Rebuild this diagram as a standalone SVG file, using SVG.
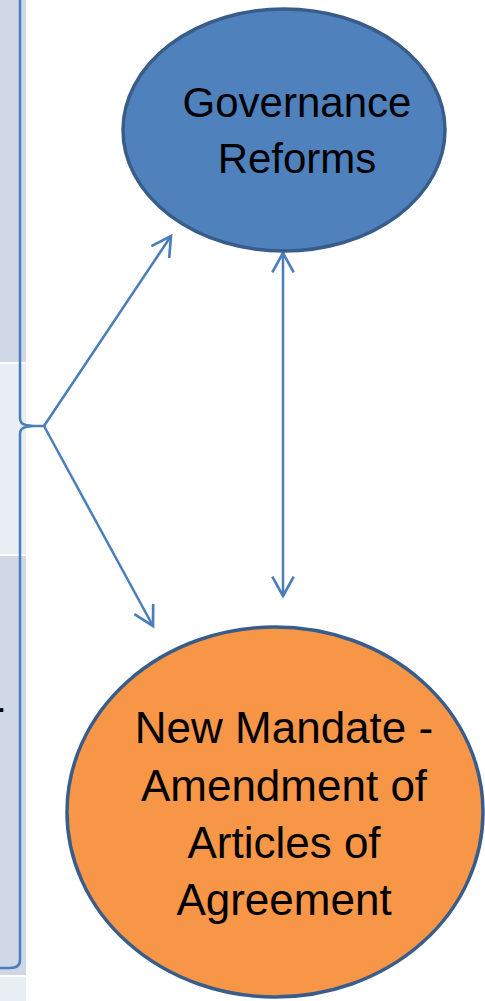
<svg xmlns="http://www.w3.org/2000/svg" width="485" height="1001" viewBox="0 0 485 1001">
<style>
.t{font-family:"Liberation Sans",Arial,sans-serif;fill:#000;text-anchor:middle}
.c{fill:none;stroke:#4A7EBB;stroke-width:2.5}
</style>
<defs>
<marker id="ah" markerUnits="userSpaceOnUse" markerWidth="30" markerHeight="30" viewBox="-22 -14 26 28" refX="0" refY="0" orient="auto-start-reverse">
<path d="M-18,-10 L0,0 L-18,10" fill="none" stroke="#4A7EBB" stroke-width="2.5"/>
</marker>
</defs>
<rect width="485" height="1001" fill="#fff"/>
<g id="side-table">
<rect x="0" y="0" width="26" height="362" fill="#D0D8E8"/>
<rect x="0" y="364" width="26" height="190" fill="#E9EDF4"/>
<rect x="0" y="556" width="26" height="419" fill="#D0D8E8"/>
<rect x="0" y="977" width="26" height="24" fill="#E9EDF4"/>
<text x="-2" y="712" font-size="25" font-family="Liberation Sans, Arial, sans-serif" font-weight="bold" fill="#000">.</text>
</g>
<g id="brace">
<path class="c" d="M20,0 V418 Q20,424 26,425 L33,426 L26,427 Q20,428 20,434 V960 Q20,968 10,968 H0"/>
</g>
<g id="connectors">
<line class="c" x1="33" y1="426" x2="44" y2="426"/>
<line class="c" x1="44" y1="426" x2="171" y2="236" marker-end="url(#ah)"/>
<line class="c" x1="44" y1="426" x2="153" y2="626" marker-end="url(#ah)"/>
<line class="c" x1="283" y1="253" x2="283" y2="596" marker-start="url(#ah)" marker-end="url(#ah)"/>
</g>
<g id="governance">
<ellipse cx="284" cy="130" rx="161" ry="121" fill="#4F81BD" stroke="#385D8A" stroke-width="3.5"/>
<text class="t" x="297" y="117" font-size="42">Governance</text>
<text class="t" x="297" y="173" font-size="42">Reforms</text>
</g>
<g id="mandate">
<ellipse cx="275" cy="812" rx="208" ry="185" fill="#F79646" stroke="#385D8A" stroke-width="3.5"/>
<text class="t" x="284" y="743" font-size="44">New Mandate -</text>
<text class="t" x="284" y="801" font-size="44">Amendment of</text>
<text class="t" x="284" y="858" font-size="44">Articles of</text>
<text class="t" x="284" y="915" font-size="44">Agreement</text>
</g>
</svg>
